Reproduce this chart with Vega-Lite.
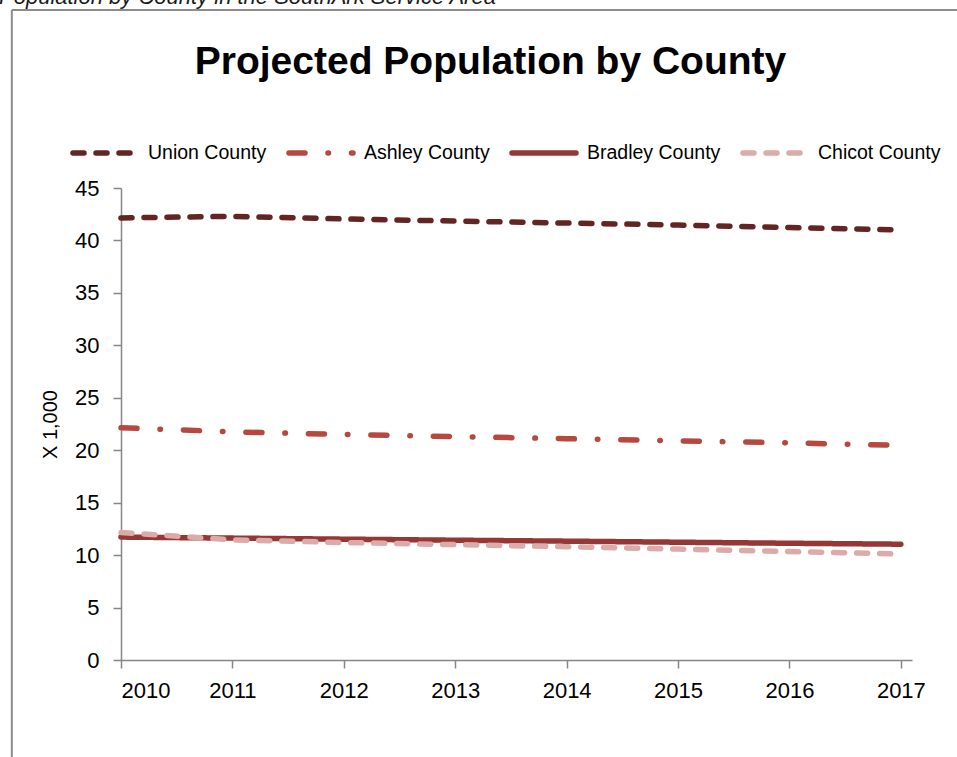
{
  "$schema": "https://vega.github.io/schema/vega-lite/v6.json",
  "width": 791,
  "height": 472,
  "autosize": {"type": "none"},
  "padding": {"left": 121, "top": 188, "right": 45, "bottom": 97},
  "background": "white",
  "title": {
    "text": "Projected Population by County",
    "font": "Liberation Sans",
    "fontWeight": "bold",
    "fontSize": 39,
    "color": "#000000",
    "anchor": "middle",
    "frame": "group",
    "baseline": "alphabetic",
    "offset": -127,
    "dx": -26
  },
  "layer": [
    {
      "data": {
        "values": [
          {"year": 2010, "county": "Union County", "value": 42.15},
          {"year": 2011, "county": "Union County", "value": 42.3},
          {"year": 2012, "county": "Union County", "value": 42.05},
          {"year": 2013, "county": "Union County", "value": 41.85},
          {"year": 2014, "county": "Union County", "value": 41.66},
          {"year": 2015, "county": "Union County", "value": 41.47},
          {"year": 2016, "county": "Union County", "value": 41.24},
          {"year": 2017, "county": "Union County", "value": 41.0},
          {"year": 2010, "county": "Ashley County", "value": 22.15},
          {"year": 2011, "county": "Ashley County", "value": 21.75},
          {"year": 2012, "county": "Ashley County", "value": 21.5},
          {"year": 2013, "county": "Ashley County", "value": 21.3},
          {"year": 2014, "county": "Ashley County", "value": 21.1},
          {"year": 2015, "county": "Ashley County", "value": 20.9},
          {"year": 2016, "county": "Ashley County", "value": 20.7},
          {"year": 2017, "county": "Ashley County", "value": 20.47},
          {"year": 2010, "county": "Bradley County", "value": 11.72},
          {"year": 2011, "county": "Bradley County", "value": 11.62},
          {"year": 2012, "county": "Bradley County", "value": 11.52},
          {"year": 2013, "county": "Bradley County", "value": 11.42},
          {"year": 2014, "county": "Bradley County", "value": 11.33},
          {"year": 2015, "county": "Bradley County", "value": 11.23},
          {"year": 2016, "county": "Bradley County", "value": 11.13},
          {"year": 2017, "county": "Bradley County", "value": 11.04},
          {"year": 2010, "county": "Chicot County", "value": 12.15},
          {"year": 2011, "county": "Chicot County", "value": 11.45},
          {"year": 2012, "county": "Chicot County", "value": 11.2},
          {"year": 2013, "county": "Chicot County", "value": 11.0},
          {"year": 2014, "county": "Chicot County", "value": 10.8},
          {"year": 2015, "county": "Chicot County", "value": 10.58},
          {"year": 2016, "county": "Chicot County", "value": 10.35},
          {"year": 2017, "county": "Chicot County", "value": 10.1}
        ]
      },
      "mark": {"type": "line", "strokeCap": "round", "strokeWidth": 5.5, "clip": false},
      "encoding": {
        "x": {
          "field": "year",
          "type": "quantitative",
          "scale": {"domain": [2010, 2017.1], "nice": false, "zero": false},
          "axis": {
            "values": [2010, 2011, 2012, 2013, 2014, 2015, 2016, 2017],
            "format": "d",
            "title": null,
            "labelPadding": 12
          }
        },
        "y": {
          "field": "value",
          "type": "quantitative",
          "scale": {"domain": [0, 45], "nice": false},
          "axis": {
            "values": [0, 5, 10, 15, 20, 25, 30, 35, 40, 45],
            "title": "X 1,000",
            "labelPadding": 14,
            "titlePadding": 14
          }
        },
        "color": {
          "field": "county",
          "type": "nominal",
          "scale": {
            "domain": ["Union County", "Ashley County", "Bradley County", "Chicot County"],
            "range": ["#632523", "#B7483F", "#953735", "#DBABA9"]
          },
          "legend": {
            "title": null,
            "orient": "none",
            "direction": "horizontal",
            "columns": 4,
            "gridAlign": "each",
            "legendX": -51,
            "legendY": -70,
            "symbolType": "stroke",
            "symbolSize": 4096,
            "symbolStrokeWidth": 5.5,
            "labelOffset": 8,
            "columnPadding": 11,
            "encode": {"symbols": {"update": {"strokeCap": {"value": "round"}}}}
          }
        },
        "strokeDash": {
          "field": "county",
          "type": "nominal",
          "scale": {
            "domain": ["Union County", "Ashley County", "Bradley County", "Chicot County"],
            "range": [[11, 12], [16, 23, 0.5, 23], [1, 0], [11, 12]]
          },
          "legend": {
            "title": null,
            "orient": "none",
            "direction": "horizontal",
            "columns": 4,
            "gridAlign": "each",
            "legendX": -51,
            "legendY": -70,
            "symbolType": "stroke",
            "symbolSize": 4096,
            "symbolStrokeWidth": 5.5,
            "labelOffset": 8,
            "columnPadding": 11,
            "encode": {"symbols": {"update": {"strokeCap": {"value": "round"}}}}
          }
        }
      }
    },
    {
      "data": {"values": [{"x": 2009.02, "top": 61.97, "bottom": -12}]},
      "mark": {"type": "rule", "color": "#8C8C8C", "strokeWidth": 2, "clip": false},
      "encoding": {
        "x": {"field": "x", "type": "quantitative"},
        "y": {"field": "top", "type": "quantitative"},
        "y2": {"field": "bottom"}
      }
    },
    {
      "data": {"values": [{"left": 2009.02, "right": 2018, "top": 61.97}]},
      "mark": {"type": "rule", "color": "#8C8C8C", "strokeWidth": 2, "clip": false},
      "encoding": {
        "x": {"field": "left", "type": "quantitative"},
        "x2": {"field": "right"},
        "y": {"field": "top", "type": "quantitative"}
      }
    },
    {
      "data": {"values": [{"caption": "Population by County in the SouthArk Service Area", "x": 2008.905, "y": 62.54}]},
      "mark": {
        "type": "text",
        "align": "left",
        "baseline": "alphabetic",
        "font": "Liberation Sans",
        "fontStyle": "italic",
        "fontSize": 22,
        "fill": "#1A1A1A",
        "clip": false
      },
      "encoding": {
        "x": {"field": "x", "type": "quantitative"},
        "y": {"field": "y", "type": "quantitative"},
        "text": {"field": "caption"}
      }
    }
  ],
  "config": {
    "view": {"stroke": null},
    "font": "Liberation Sans",
    "axis": {
      "grid": false,
      "domainColor": "#868686",
      "domainWidth": 1.5,
      "tickColor": "#868686",
      "tickWidth": 1.5,
      "tickSize": 8,
      "labelFont": "Liberation Sans",
      "labelFontSize": 22,
      "labelColor": "#000000",
      "titleFont": "Liberation Sans",
      "titleFontSize": 20,
      "titleFontWeight": "normal",
      "titleColor": "#000000"
    },
    "legend": {
      "labelFont": "Liberation Sans",
      "labelFontSize": 19.5,
      "labelColor": "#000000"
    }
  }
}
